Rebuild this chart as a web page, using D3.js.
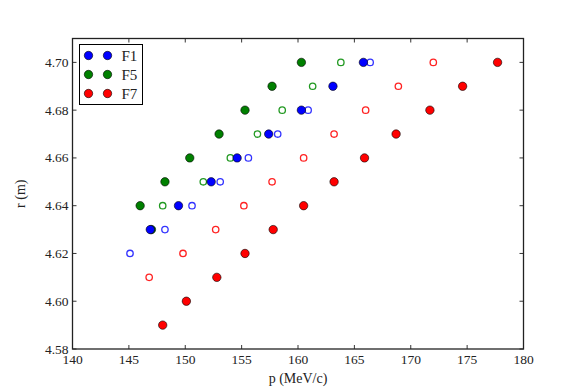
<!DOCTYPE html>
<html>
<head>
<meta charset="utf-8">
<script src="https://cdn.jsdelivr.net/npm/d3@7"></script>
<style>
body { margin: 0; background: #fff; }
text { font-family: "Liberation Serif", "DejaVu Serif", serif; fill: #222; }
</style>
</head>
<body>
<script>
// radius rows (m)
var f1FullR = [4.70, 4.69, 4.68, 4.67, 4.66, 4.65, 4.64, 4.63];
var f1FullP = [165.8, 163.1, 160.3, 157.4, 154.6, 152.3, 149.4, 146.9];
var f1OpenR = [4.70, 4.68, 4.67, 4.66, 4.65, 4.64, 4.63, 4.62];
var f1OpenP = [166.4, 160.9, 158.2, 155.6, 153.1, 150.6, 148.2, 145.1];

var f5FullR = [4.70, 4.69, 4.68, 4.67, 4.66, 4.65, 4.64, 4.63];
var f5FullP = [160.3, 157.7, 155.3, 153.0, 150.4, 148.2, 146.0, 147.0];
var f5OpenR = [4.70, 4.69, 4.68, 4.67, 4.66, 4.65, 4.64];
var f5OpenP = [163.8, 161.3, 158.6, 156.4, 154.0, 151.6, 148.0];

var f7FullR = [4.70, 4.69, 4.68, 4.67, 4.66, 4.65, 4.64, 4.63, 4.62, 4.61, 4.60, 4.59];
var f7FullP = [177.7, 174.6, 171.7, 168.7, 165.9, 163.2, 160.5, 157.8, 155.3, 152.8, 150.1, 148.0];
var f7OpenR = [4.70, 4.69, 4.68, 4.67, 4.66, 4.65, 4.64, 4.63, 4.62, 4.61];
var f7OpenP = [172.0, 168.9, 166.0, 163.2, 160.5, 157.7, 155.2, 152.7, 149.8, 146.8];

var xTicks = [140, 145, 150, 155, 160, 165, 170, 175, 180];
var yTicks = [4.58, 4.60, 4.62, 4.64, 4.66, 4.68, 4.70];
var legendNames = ["F1", "F5", "F7"];
var colors = ["#0000ff", "#008000", "#ff0000"];
var openColors = ["#3333ff", "#229922", "#ff2222"];

var W = 582, H = 388;
var margin = {top: 38.5, right: 58.5, bottom: 39, left: 72.5};
var w = W - margin.left - margin.right,
    h = H - margin.top - margin.bottom;

var svg = d3.select("body").append("svg")
    .attr("width", W)
    .attr("height", H);

var g = svg.append("g")
    .attr("transform", "translate(" + margin.left + "," + margin.top + ")");

var x = d3.scaleLinear().domain([140, 180]).range([0, w]);
var y = d3.scaleLinear().domain([4.58, 4.71]).range([h, 0]);

// ticks, inward on all four sides
var tickG = g.append("g").attr("stroke", "#000").attr("stroke-width", 0.8);
xTicks.forEach(function(t){
    tickG.append("line").attr("x1", x(t)).attr("x2", x(t)).attr("y1", h).attr("y2", h - 4);
    tickG.append("line").attr("x1", x(t)).attr("x2", x(t)).attr("y1", 0).attr("y2", 4);
});
yTicks.forEach(function(t){
    tickG.append("line").attr("x1", 0).attr("x2", 4).attr("y1", y(t)).attr("y2", y(t));
    tickG.append("line").attr("x1", w).attr("x2", w - 4).attr("y1", y(t)).attr("y2", y(t));
});

g.selectAll(".xlab").data(xTicks).enter().append("text")
    .attr("x", function(d){ return x(d); })
    .attr("y", h + 15)
    .attr("text-anchor", "middle")
    .style("font-size", "13.5px")
    .text(function(d){ return d; });

g.selectAll(".ylab").data(yTicks).enter().append("text")
    .attr("x", -4)
    .attr("y", function(d){ return y(d) + 4.5; })
    .attr("text-anchor", "end")
    .style("font-size", "13.5px")
    .text(function(d){ return d.toFixed(2); });

// open markers first, filled on top
function drawOpen(ps, rs, c){
    g.append("g").selectAll("circle").data(ps).enter().append("circle")
        .attr("cx", function(d){ return x(d); })
        .attr("cy", function(d, i){ return y(rs[i]); })
        .attr("r", 3.2)
        .attr("fill", "#fff")
        .attr("stroke", c)
        .attr("stroke-width", 1.3);
}
function drawFull(ps, rs, c){
    g.append("g").selectAll("circle").data(ps).enter().append("circle")
        .attr("cx", function(d){ return x(d); })
        .attr("cy", function(d, i){ return y(rs[i]); })
        .attr("r", 4.2)
        .attr("fill", c)
        .attr("stroke", "#000")
        .attr("stroke-width", 0.6);
}
drawOpen(f1OpenP, f1OpenR, openColors[0]);
drawOpen(f5OpenP, f5OpenR, openColors[1]);
drawOpen(f7OpenP, f7OpenR, openColors[2]);
drawFull(f5FullP, f5FullR, colors[1]);
drawFull(f1FullP, f1FullR, colors[0]);
drawFull(f7FullP, f7FullR, colors[2]);

// frame
g.append("rect")
    .attr("width", w).attr("height", h)
    .attr("fill", "none")
    .attr("stroke", "#222")
    .attr("stroke-width", 1.3);

// legend
var leg = g.append("g").attr("transform", "translate(7,6)");
leg.append("rect")
    .attr("width", 63).attr("height", 60)
    .attr("fill", "#fff")
    .attr("stroke", "#000")
    .attr("stroke-width", 1);
legendNames.forEach(function(n, i){
    var yy = 11 + i * 19;
    [9, 28].forEach(function(xx){
        leg.append("circle").attr("cx", xx).attr("cy", yy).attr("r", 4.2)
            .attr("fill", colors[i]).attr("stroke", "#000").attr("stroke-width", 0.6);
    });
    leg.append("text").attr("x", 42).attr("y", yy + 5)
        .style("font-size", "15px").text(n);
});

// axis titles
svg.append("text")
    .attr("x", margin.left + w / 2)
    .attr("y", H - 5)
    .attr("text-anchor", "middle")
    .style("font-size", "14px")
    .text("p (MeV/c)");

svg.append("text")
    .attr("transform", "translate(25," + (margin.top + h / 2) + ") rotate(-90)")
    .attr("text-anchor", "middle")
    .style("font-size", "14px")
    .text("r (m)");
</script>
</body>
</html>
